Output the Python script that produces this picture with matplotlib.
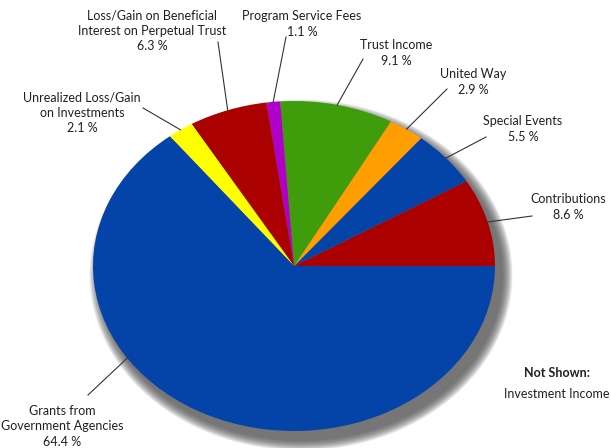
import matplotlib.pyplot as plt
from matplotlib.patches import Ellipse
import numpy as np

# slices, counter-clockwise from 3 o'clock
labels = ["Contributions", "Special Events", "United Way", "Trust Income",
          "Program Service Fees", "Loss/Gain on Beneficial\nInterest on Perpetual Trust",
          "Unrealized Loss/Gain\non Investments", "Grants from\nGovernment Agencies"]
values = [8.6, 5.5, 2.9, 9.1, 1.1, 6.3, 2.1, 64.4]
colors = ["#AA0000", "#0443A8", "#FF9E00", "#3F9C0A", "#B000C8", "#AA0000", "#FFFF00", "#0443A8"]

# layout (pixels in a 611x448 image)
W, H = 611, 448
cx, cy, rx, ry = 294, 266, 201, 165
text_pos = [(568, 207), (523, 129), (473, 82), (396, 53), (302, 24), (152, 31), (82, 113), (62, 426)]
line_end = [(532, 216), (486, 137), (447, 89), (363, 59), (286, 37), (218, 42), (143, 108), (88, 395)]
anchor_frac = [0.5, 0.5, 0.5, 0.5, 0.5, 0.5, 0.5, 0.37]

plt.rcParams['font.family'] = ['Lato', 'DejaVu Sans']
txt_color = "#231F20"

fig = plt.figure(figsize=(W / 100, H / 100), dpi=100)
ax = fig.add_axes([0, 0, 1, 1])


def px(x, y):
    return (x - cx) / rx, (cy - y) / ry


# soft drop shadow
off = px(cx + 7, cy + 9)
n = 14
for i in range(n):
    grow = (n - i) * 0.75 / rx
    ax.add_patch(Ellipse(off, 2 * (1 + grow), 2 * (1 + grow * rx / ry), color="#4a4a4a",
                         alpha=0.09, lw=0, zorder=1))

wedges, _ = ax.pie(values, colors=colors, startangle=0, counterclock=True, radius=1,
                   wedgeprops=dict(linewidth=0, zorder=3))
ax.set_aspect('auto')
ax.set_xlim(px(0, 0)[0], px(W, 0)[0])
ax.set_ylim(px(0, H)[1], px(0, 0)[1])
ax.axis('off')

cum = np.concatenate([[0], np.cumsum(values)]) / np.sum(values) * 360
for i, (lab, v) in enumerate(zip(labels, values)):
    ang = np.deg2rad(cum[i] + anchor_frac[i] * (cum[i + 1] - cum[i]))
    start = (np.cos(ang), np.sin(ang))
    end = px(*line_end[i])
    ax.plot([start[0], end[0]], [start[1], end[1]], color="#333333", lw=0.8, zorder=4)
    tx, ty = px(*text_pos[i])
    ax.text(tx, ty, f"{lab}\n{v} %", ha='center', va='center', fontsize=9,
            color=txt_color, linespacing=1.35, zorder=5)

ax.text(*px(557, 373), "Not Shown:", ha='center', va='center', fontsize=9,
        fontweight='bold', color=txt_color)
ax.text(*px(504, 394), "Investment Income", ha='left', va='center', fontsize=9,
        color=txt_color)

fig.savefig("out.png", dpi=100)
